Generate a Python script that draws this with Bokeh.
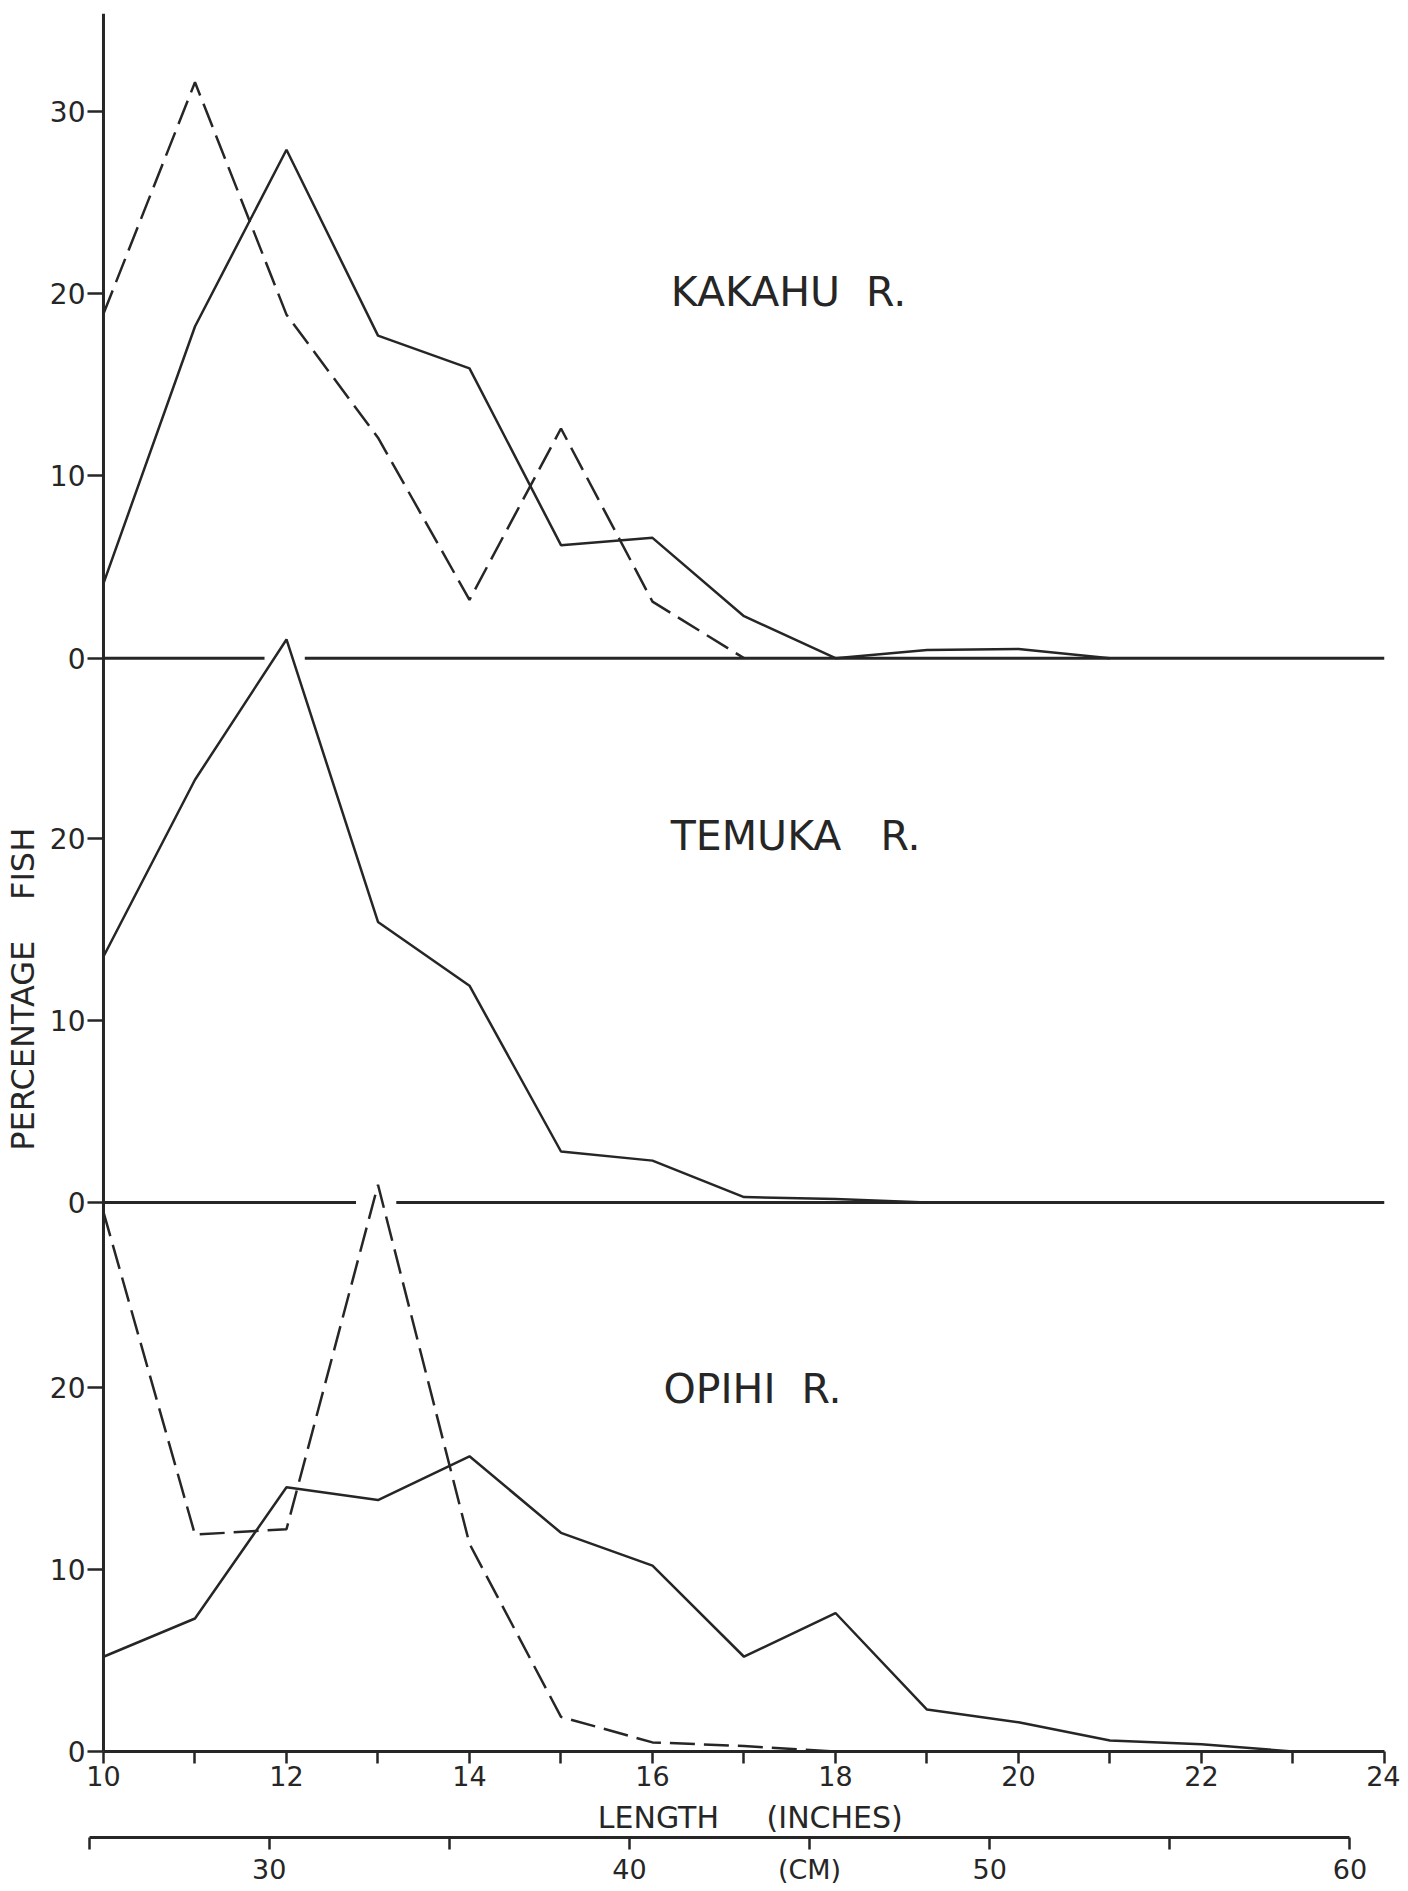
from bokeh.plotting import figure
from bokeh.models import Range1d, LinearAxis, FixedTicker, Label
from bokeh.embed import file_html
from bokeh.resources import INLINE

# ---------------- data ----------------
length_inches = list(range(10, 25))          # x-axis, inches
major_x_ticks = [10, 12, 14, 16, 18, 20, 22, 24]
minor_x_ticks = [11, 13, 15, 17, 19, 21, 23]

kakahu_x_solid = list(range(10, 22))
kakahu_solid = [4.1, 18.2, 27.9, 17.7, 15.9, 6.2, 6.6, 2.3, 0.0, 0.45, 0.5, 0.0]
kakahu_x_dashed = list(range(10, 18))
kakahu_dashed = [18.9, 31.6, 18.85, 12.1, 3.2, 12.6, 3.1, 0.0]

temuka_x_solid = list(range(10, 20))
temuka_solid = [13.5, 23.2, 30.9, 15.4, 11.9, 2.8, 2.3, 0.3, 0.2, 0.0]

opihi_x_solid = list(range(10, 24))
opihi_solid = [5.2, 7.3, 14.5, 13.8, 16.2, 12.0, 10.2, 5.2, 7.6, 2.3, 1.6, 0.6, 0.4, 0.0]
opihi_x_dashed = list(range(10, 19))
opihi_dashed = [29.6, 11.9, 12.2, 31.1, 11.4, 1.9, 0.5, 0.3, 0.0]

panel_labels = ["KAKAHU\u00a0\u00a0R.", "TEMUKA\u00a0\u00a0\u00a0R.", "OPIHI\u00a0\u00a0R."]
y_title = "PERCENTAGE\u00a0\u00a0\u00a0\u00a0FISH"
x_title = "LENGTH\u00a0\u00a0\u00a0\u00a0\u00a0(INCHES)"
y_ticks_top = [0, 10, 20, 30]
y_ticks_other = [0, 10, 20]
cm_ticks = [25, 30, 35, 40, 45, 50, 55, 60]
cm_tick_labels = ["", "30", "", "40", "(CM)", "50", "", "60"]
CM_PER_INCH = 2.54

# ---------------- layout constants ----------------
offsets = [60.0, 30.125, 0.0]   # baselines of kakahu, temuka, opihi panels
PANEL_H = 30.125                # height available to a lower panel
Y_END = 95.375                  # top of the kakahu axis line
X0, X1 = length_inches[0], length_inches[-1]
W, H = 1400, 1887
BL, BR, BT, BB = 86, 16, 13, 135
TICK_IN = 16                    # px from frame edge to the 10-inch axis line
PX_PER_IN = (W - BL - BR - TICK_IN) / (X1 - X0)
X_START = X0 - TICK_IN / PX_PER_IN
NB = "\u00a0"
Y_TITLE_PAD = 21                # trailing no-break spaces: moves the centred title down
X_TITLE_PAD = 3                 # leading no-break spaces: moves the centred title right
INK = "#262626"
FONT = "DejaVu Sans"

p = figure(width=W, height=H, x_range=Range1d(X_START, X1), y_range=Range1d(0, Y_END),
           output_backend="svg", toolbar_location=None,
           min_border_left=BL, min_border_right=BR, min_border_top=BT, min_border_bottom=BB)
p.outline_line_color = None
p.background_fill_color = "white"
p.border_fill_color = "white"
p.grid.visible = False

names = ["kakahu", "temuka", "opihi"]
for nm, off in zip(names, offsets):
    p.extra_y_ranges[nm] = Range1d(start=-off, end=Y_END - off)
p.extra_x_ranges["cm"] = Range1d(X_START * CM_PER_INCH, X1 * CM_PER_INCH)

# ---------------- y axis: line at x = 10 in, ticks reach it from the frame edge ----------------
tick_pos, overrides = [], {}
for off, ticks in zip(offsets, [y_ticks_top, y_ticks_other, y_ticks_other]):
    for t in ticks:
        tick_pos.append(off + t)
        overrides[off + t] = str(t)
ya = p.yaxis[0]
ya.ticker = FixedTicker(ticks=tick_pos, minor_ticks=[])
ya.major_label_overrides = overrides
ya.axis_line_color = None
ya.major_tick_line_width = 2.5
ya.major_tick_line_color = INK
ya.major_tick_out = 0
ya.major_tick_in = TICK_IN
ya.minor_tick_line_color = None
ya.major_label_standoff = 2
ya.major_label_text_font = FONT
ya.major_label_text_font_size = "28px"
ya.major_label_text_color = INK
ya.axis_label = y_title + NB * Y_TITLE_PAD
ya.axis_label_text_font = FONT
ya.axis_label_text_font_style = "normal"
ya.axis_label_text_font_size = "32px"
ya.axis_label_text_color = INK
ya.axis_label_standoff = 5
p.segment(x0=[X0], y0=[0], x1=[X0], y1=[Y_END], line_color=INK, line_width=3)

# ---------------- x axis (inches) ----------------
xa = p.xaxis[0]
xa.bounds = (X0, X1)
xa.ticker = FixedTicker(ticks=major_x_ticks, minor_ticks=minor_x_ticks)
xa.axis_line_width = 3
xa.axis_line_color = INK
xa.major_tick_line_width = 2.5
xa.minor_tick_line_width = 2.5
xa.major_tick_line_color = INK
xa.minor_tick_line_color = INK
xa.major_tick_out = 12
xa.major_tick_in = 0
xa.minor_tick_out = 12
xa.minor_tick_in = 0
xa.major_label_standoff = 2
xa.major_label_text_font = FONT
xa.major_label_text_font_size = "27px"
xa.major_label_text_color = INK
xa.axis_label = NB * X_TITLE_PAD + x_title
xa.axis_label_text_font = FONT
xa.axis_label_text_font_style = "normal"
xa.axis_label_text_font_size = "30px"
xa.axis_label_text_color = INK
xa.axis_label_standoff = 11

# ---------------- second x axis (cm) ----------------
cm_axis = LinearAxis(x_range_name="cm", ticker=FixedTicker(ticks=cm_ticks, minor_ticks=[]),
                     bounds=(cm_ticks[0], cm_ticks[-1]),
                     major_label_overrides={t: s for t, s in zip(cm_ticks, cm_tick_labels)})
cm_axis.axis_line_width = 3
cm_axis.axis_line_color = INK
cm_axis.major_tick_line_width = 2.5
cm_axis.major_tick_line_color = INK
cm_axis.major_tick_out = 12
cm_axis.major_tick_in = 0
cm_axis.minor_tick_line_color = None
cm_axis.major_label_standoff = 4
cm_axis.major_label_text_font = FONT
cm_axis.major_label_text_font_size = "27px"
cm_axis.major_label_text_color = INK
p.add_layout(cm_axis, "below")

# ---------------- panel baselines (with gap where the panel below pokes through) ----------------
below_series = {
    "kakahu": [(temuka_x_solid, temuka_solid)],
    "temuka": [(opihi_x_solid, opihi_solid), (opihi_x_dashed, opihi_dashed)],
}
for nm in ["kakahu", "temuka"]:
    peaks = [x for xs, ys in below_series[nm] for x, y in zip(xs, ys) if y > PANEL_H]
    xs_seg, ys_seg = [], []
    start = X0
    for pk in sorted(peaks):
        xs_seg.append([start, pk - 0.24])
        ys_seg.append([0, 0])
        start = pk + 0.2
    xs_seg.append([start, X1])
    ys_seg.append([0, 0])
    p.multi_line(xs_seg, ys_seg, y_range_name=nm, line_color=INK, line_width=3)

# ---------------- data lines ----------------
LW = 2.5
DASH = "25 9"
p.line(kakahu_x_solid, kakahu_solid, y_range_name="kakahu", line_color=INK, line_width=LW)
p.line(kakahu_x_dashed, kakahu_dashed, y_range_name="kakahu", line_color=INK, line_width=LW,
       line_dash=DASH)
p.line(temuka_x_solid, temuka_solid, y_range_name="temuka", line_color=INK, line_width=LW)
p.line(opihi_x_solid, opihi_solid, y_range_name="opihi", line_color=INK, line_width=LW)
p.line(opihi_x_dashed, opihi_dashed, y_range_name="opihi", line_color=INK, line_width=LW,
       line_dash=DASH)

# ---------------- panel labels ----------------
for nm, txt, lx, ly in zip(names, panel_labels, [16.2, 16.2, 16.12], [20.1, 20.1, 19.9]):
    p.add_layout(Label(x=lx, y=ly, y_range_name=nm, text=txt, text_font=FONT,
                       text_font_size="41px", text_color=INK, text_align="left",
                       text_baseline="alphabetic"))

open("out.html", "w").write(file_html(p, INLINE))
